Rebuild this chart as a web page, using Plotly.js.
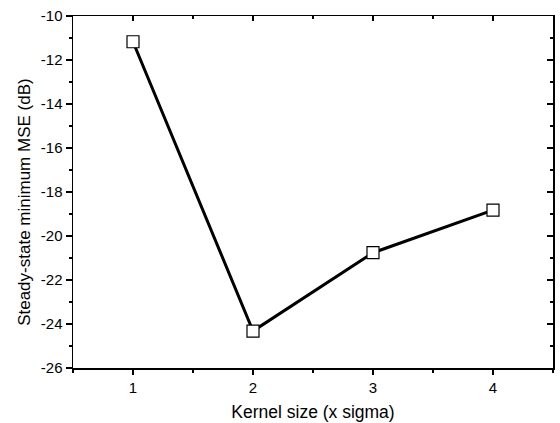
<!DOCTYPE html>
<html>
<head>
<meta charset="utf-8">
<script src="https://cdn.plot.ly/plotly-3.0.1.min.js"></script>
<style>
  html, body { margin: 0; padding: 0; background: #fff; }
  #chart { width: 560px; height: 423px; }
</style>
</head>
<body>
<div id="chart"></div>
<script>
// Kernel size (multiples of sigma) vs steady-state minimum MSE
const kernelSize = [1, 2, 3, 4];
const minMSE = [-11.17, -24.32, -20.76, -18.82];

const xTickVals = [1, 2, 3, 4];
const xTickText = ['1', '2', '3', '4'];
const yTickVals = [-26, -24, -22, -20, -18, -16, -14, -12, -10];
const yTickText = ['-26', '-24', '-22', '-20', '-18', '-16', '-14', '-12', '-10'];

const xTitle = 'Kernel size (x sigma)';
const yTitle = 'Steady-state minimum MSE (dB)';

const font = 'Arial, "Liberation Sans", sans-serif';
const xRange = [0.5, 4.5];
const yRange = [-26, -10];

const trace = {
  x: kernelSize,
  y: minMSE,
  type: 'scatter',
  mode: 'lines+markers',
  line: { color: '#000', width: 3 },
  marker: { symbol: 'square', size: 12, color: '#fff', line: { color: '#000', width: 1.2 } },
  hoverinfo: 'x+y'
};

// invisible copy on the mirror axes so the top/right frame is drawn
const frameTrace = {
  x: kernelSize,
  y: minMSE,
  xaxis: 'x2',
  yaxis: 'y2',
  type: 'scatter',
  mode: 'markers',
  marker: { opacity: 0 },
  hoverinfo: 'skip'
};

const layout = {
  width: 560,
  height: 423,
  margin: { l: 73, r: 7, t: 16, b: 55 },
  paper_bgcolor: '#fff',
  plot_bgcolor: '#fff',
  showlegend: false,
  font: { family: font, color: '#000' },
  xaxis: {
    range: xRange,
    tickmode: 'array',
    tickvals: xTickVals,
    ticktext: xTickText,
    ticks: 'outside',
    ticklen: 5,
    tickwidth: 1.2,
    tickcolor: '#000',
    minor: { dtick: 0.5, tick0: 0.5, ticks: 'outside', ticklen: 3, tickwidth: 1.2, tickcolor: '#000' },
    showline: true,
    linecolor: '#000',
    linewidth: 1.5,
    showgrid: false,
    zeroline: false,
    tickfont: { size: 15, family: font, color: '#000' },
    title: { text: xTitle, font: { size: 17.5, family: font, color: '#000' }, standoff: 11 }
  },
  yaxis: {
    range: yRange,
    tickmode: 'array',
    tickvals: yTickVals,
    ticktext: yTickText,
    ticks: 'outside',
    ticklen: 6,
    tickwidth: 1.2,
    tickcolor: '#000',
    minor: { dtick: 1, tick0: -26, ticks: 'outside', ticklen: 3, tickwidth: 1.2, tickcolor: '#000' },
    showline: true,
    linecolor: '#000',
    linewidth: 1.5,
    showgrid: false,
    zeroline: false,
    tickfont: { size: 15, family: font, color: '#000' }
  },
  xaxis2: {
    overlaying: 'x',
    side: 'top',
    range: xRange,
    tickmode: 'array',
    tickvals: xTickVals,
    showticklabels: false,
    ticks: 'inside',
    ticklen: 5,
    tickwidth: 1.2,
    tickcolor: '#000',
    minor: { dtick: 0.5, tick0: 0.5, ticks: 'inside', ticklen: 3, tickwidth: 1.2, tickcolor: '#000' },
    showline: true,
    linecolor: '#000',
    linewidth: 1.5,
    showgrid: false,
    zeroline: false
  },
  yaxis2: {
    overlaying: 'y',
    side: 'right',
    range: yRange,
    tickmode: 'array',
    tickvals: yTickVals,
    showticklabels: false,
    ticks: 'inside',
    ticklen: 6,
    tickwidth: 1.2,
    tickcolor: '#000',
    minor: { dtick: 1, tick0: -26, ticks: 'inside', ticklen: 3, tickwidth: 1.2, tickcolor: '#000' },
    showline: true,
    linecolor: '#000',
    linewidth: 1.5,
    showgrid: false,
    zeroline: false
  },
  // vertical axis title, set slightly below the plot's mid-height
  annotations: [{
    text: yTitle,
    xref: 'paper',
    yref: 'paper',
    x: -0.1,
    y: 0.472,
    xanchor: 'center',
    yanchor: 'middle',
    textangle: -90,
    showarrow: false,
    font: { size: 17, family: font, color: '#000' }
  }]
};

Plotly.newPlot('chart', [trace, frameTrace], layout, { displayModeBar: false, staticPlot: true });
</script>
</body>
</html>
